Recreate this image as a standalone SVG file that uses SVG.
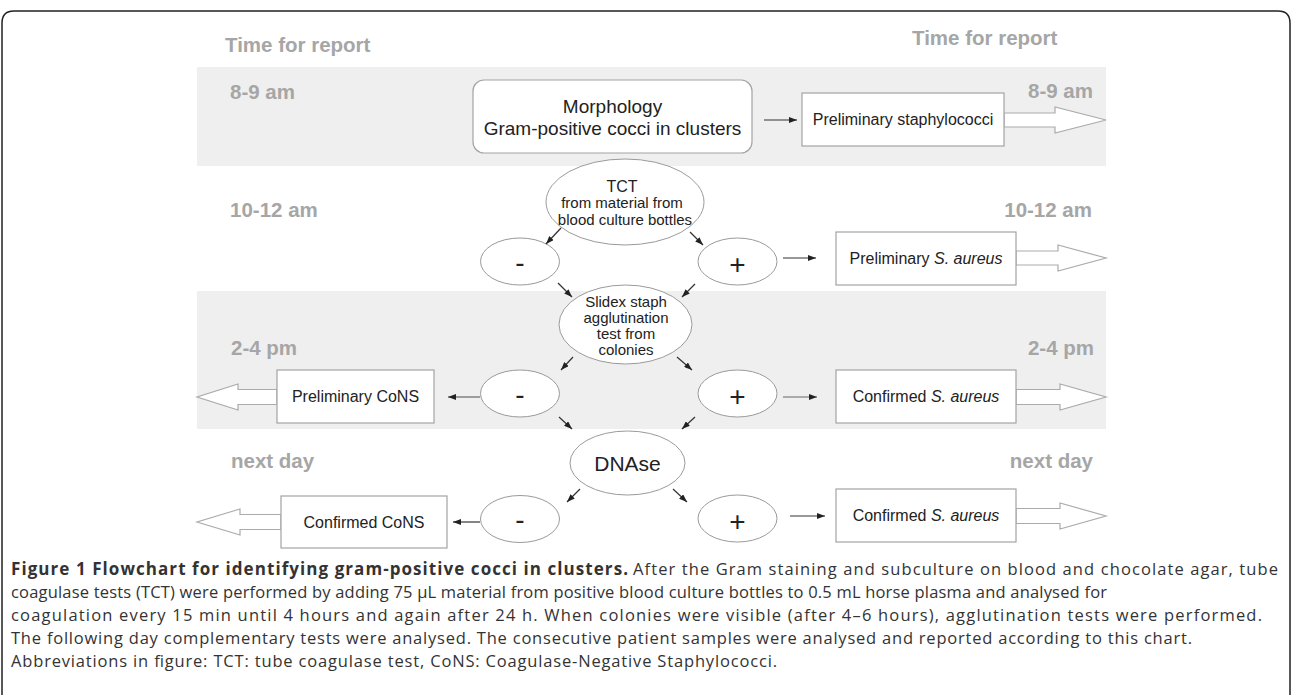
<svg xmlns="http://www.w3.org/2000/svg" width="1292" height="695" viewBox="0 0 1292 695">
<defs>
<marker id="ah" markerWidth="8" markerHeight="6" refX="8" refY="3" orient="auto" markerUnits="userSpaceOnUse">
<path d="M0,0 L8,3 L0,6 z" fill="#222"/>
</marker>
<style>
.band{fill:#efefef}
.time{font-family:"Liberation Sans",Arial,sans-serif;font-weight:bold;font-size:20.5px;fill:#a6a6a6}
.box{fill:#fff;stroke:#a3a3a3;stroke-width:1.2}
.ell{fill:#fff;stroke:#9a9a9a;stroke-width:1}
.big{fill:#fff;stroke:#ababab;stroke-width:1.2}
.t{font-family:"Liberation Sans",Arial,sans-serif;fill:#222;text-anchor:middle}
.t16{font-size:16px}
.t15{font-size:15px}
.sym{font-size:28px}
.conn line{stroke:#333;stroke-width:1.2;marker-end:url(#ah)}
.cap{font-family:"Open Sans","Noto Sans","Liberation Sans",sans-serif;font-size:16.5px;fill:#333}
.capb{font-family:"Open Sans","Noto Sans","Liberation Sans",sans-serif;font-size:17px;font-weight:bold;fill:#333}
</style>
</defs>

<path d="M2,700 V23 Q2,11 14,11 H1278 Q1290,11 1290,23 V700" fill="none" stroke="#222" stroke-width="1.5"/>

<g id="bands">
<rect class="band" x="197" y="67" width="909" height="99"/>
<rect class="band" x="197" y="291" width="909" height="138"/>
</g>

<g id="time-labels">
<text class="time" x="225" y="52">Time for report</text>
<text class="time" x="912" y="45">Time for report</text>
<text class="time" x="230" y="99">8-9 am</text>
<text class="time" x="1093" y="98" text-anchor="end">8-9 am</text>
<text class="time" x="230" y="217">10-12 am</text>
<text class="time" x="1092" y="217" text-anchor="end">10-12 am</text>
<text class="time" x="231" y="355">2-4 pm</text>
<text class="time" x="1094" y="355" text-anchor="end">2-4 pm</text>
<text class="time" x="231" y="468">next day</text>
<text class="time" x="1093" y="468" text-anchor="end">next day</text>
</g>

<g id="morphology">
<rect class="box" x="473" y="80" width="279" height="73" rx="11"/>
<text class="t" x="612.5" y="113" font-size="19">Morphology</text>
<text class="t" x="612.5" y="135" font-size="19">Gram-positive cocci in clusters</text>
</g>

<g id="prelim-staph">
<polygon class="big" points="1004,113 1055,113 1055,107 1106,120 1055,133 1055,127 1004,127"/>
<rect class="box" x="802" y="93" width="202" height="53"/>
<text class="t t16" x="903" y="125">Preliminary staphylococci</text>
</g>

<g id="tct">
<ellipse class="ell" cx="625" cy="202" rx="79" ry="43"/>
<text class="t t16" x="622" y="192">TCT</text>
<text class="t t15" x="622" y="208">from material from</text>
<text class="t t15" x="625" y="225">blood culture bottles</text>
</g>

<g id="tct-neg">
<ellipse class="ell" cx="520" cy="261.5" rx="39.5" ry="23.5"/>
<text class="t sym" x="520" y="272">-</text>
</g>
<g id="tct-pos">
<ellipse class="ell" cx="737.5" cy="261.5" rx="39.5" ry="23.5"/>
<text class="t sym" x="737.5" y="274">+</text>
</g>

<g id="prelim-saureus">
<polygon class="big" points="1016,251 1058,251 1058,245 1106,258 1058,271 1058,265 1016,265"/>
<rect class="box" x="836" y="232" width="180" height="53"/>
<text class="t t16" x="926" y="264">Preliminary <tspan font-style="italic">S. aureus</tspan></text>
</g>

<g id="slidex">
<ellipse class="ell" cx="625.5" cy="324.5" rx="66.5" ry="39.5"/>
<text class="t t15" x="626" y="307">Slidex staph</text>
<text class="t t15" x="626" y="323">agglutination</text>
<text class="t t15" x="626" y="339">test from</text>
<text class="t t15" x="626" y="355">colonies</text>
</g>

<g id="slidex-neg">
<ellipse class="ell" cx="520" cy="393.5" rx="39.5" ry="23.5"/>
<text class="t sym" x="520" y="404">-</text>
</g>
<g id="slidex-pos">
<ellipse class="ell" cx="737.5" cy="393.5" rx="39.5" ry="23.5"/>
<text class="t sym" x="737.5" y="406">+</text>
</g>

<g id="prelim-cons">
<polygon class="big" points="277,389.5 238,389.5 238,384 197,397 238,410 238,404.5 277,404.5"/>
<rect class="box" x="277" y="370" width="157" height="53"/>
<text class="t t16" x="355.5" y="402">Preliminary CoNS</text>
</g>

<g id="confirmed-saureus-1">
<polygon class="big" points="1016,389.5 1060,389.5 1060,384 1106,397 1060,410 1060,404.5 1016,404.5"/>
<rect class="box" x="836" y="370" width="180" height="53"/>
<text class="t t16" x="926" y="402">Confirmed <tspan font-style="italic">S. aureus</tspan></text>
</g>

<g id="dnase">
<ellipse class="ell" cx="627.5" cy="463" rx="57.5" ry="32"/>
<text class="t" x="627.5" y="471" font-size="21">DNAse</text>
</g>

<g id="dnase-neg">
<ellipse class="ell" cx="520" cy="519" rx="39.5" ry="23.5"/>
<text class="t sym" x="520" y="529">-</text>
</g>
<g id="dnase-pos">
<ellipse class="ell" cx="737.5" cy="518.5" rx="39.5" ry="23.5"/>
<text class="t sym" x="737.5" y="531">+</text>
</g>

<g id="confirmed-cons">
<polygon class="big" points="281,514.5 240,514.5 240,509 197,522 240,535 240,529.5 281,529.5"/>
<rect class="box" x="281" y="496" width="166" height="52"/>
<text class="t t16" x="364" y="527.5">Confirmed CoNS</text>
</g>

<g id="confirmed-saureus-2">
<polygon class="big" points="1016,508.5 1060,508.5 1060,503 1106,516 1060,529 1060,523.5 1016,523.5"/>
<rect class="box" x="836" y="489" width="180" height="53"/>
<text class="t t16" x="926" y="521">Confirmed <tspan font-style="italic">S. aureus</tspan></text>
</g>

<g id="connectors" class="conn">
<line x1="764" y1="120" x2="797" y2="120"/>
<line x1="561" y1="228" x2="546" y2="244"/>
<line x1="690" y1="232" x2="703" y2="245"/>
<line x1="783" y1="258" x2="816" y2="258"/>
<line x1="558" y1="283" x2="572" y2="297"/>
<line x1="695" y1="284" x2="682" y2="297"/>
<line x1="573" y1="357" x2="561" y2="370"/>
<line x1="677" y1="357" x2="692" y2="370"/>
<line x1="480" y1="397" x2="448" y2="397" style="stroke:#666"/>
<line x1="783" y1="397" x2="817" y2="397" style="stroke:#666"/>
<line x1="559" y1="417" x2="572" y2="429"/>
<line x1="695" y1="417" x2="682" y2="429"/>
<line x1="580" y1="489" x2="567" y2="502"/>
<line x1="673" y1="489" x2="687" y2="502"/>
<line x1="480" y1="522" x2="453" y2="522"/>
<line x1="790" y1="516" x2="825" y2="516"/>
</g>

<g id="caption">
<text class="capb" x="11" y="575" textLength="617" lengthAdjust="spacing">Figure 1 Flowchart for identifying gram-positive cocci in clusters.</text>
<text class="cap" x="633" y="575" textLength="645" lengthAdjust="spacing">After the Gram staining and subculture on blood and chocolate agar, tube</text>
<text class="cap" x="11" y="598" textLength="1096" lengthAdjust="spacing">coagulase tests (TCT) were performed by adding 75 µL material from positive blood culture bottles to 0.5 mL horse plasma and analysed for</text>
<text class="cap" x="11" y="621" textLength="1251" lengthAdjust="spacing">coagulation every 15 min until 4 hours and again after 24 h. When colonies were visible (after 4–6 hours), agglutination tests were performed.</text>
<text class="cap" x="11" y="644" textLength="1181" lengthAdjust="spacing">The following day complementary tests were analysed. The consecutive patient samples were analysed and reported according to this chart.</text>
<text class="cap" x="11" y="667" textLength="766" lengthAdjust="spacing">Abbreviations in figure: TCT: tube coagulase test, CoNS: Coagulase-Negative Staphylococci.</text>
</g>
</svg>
